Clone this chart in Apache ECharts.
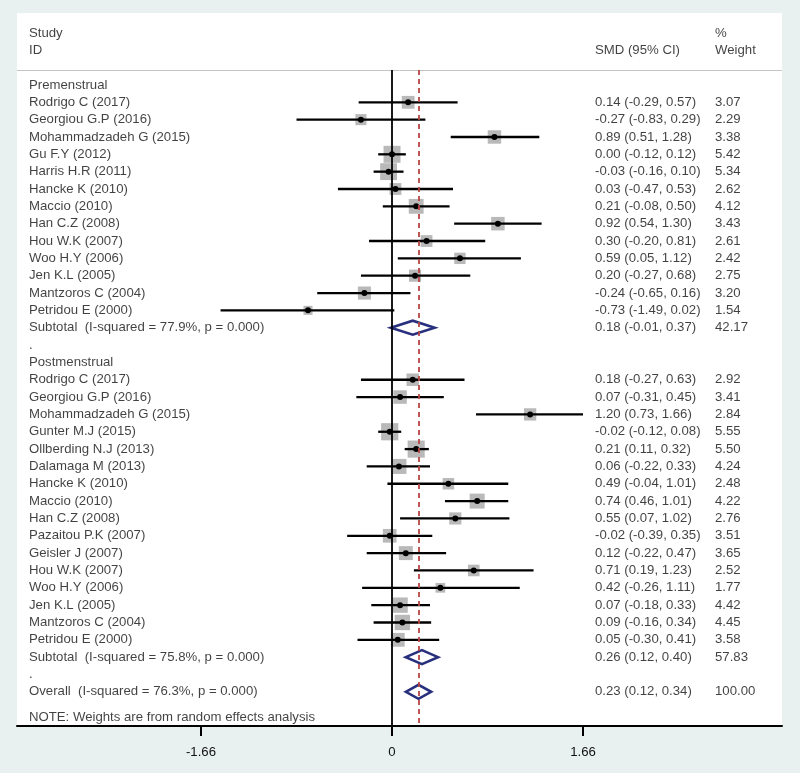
<!DOCTYPE html>
<html><head><meta charset="utf-8">
<script src="https://cdn.jsdelivr.net/npm/echarts@6/dist/echarts.min.js"></script>
<style>html,body{margin:0;padding:0;background:#e8f0f0}#c{width:800px;height:773px}</style>
</head><body><div id="c"></div>
<script>
// ---- Data ----
const preStudies = ["Rodrigo C (2017)","Georgiou G.P (2016)","Mohammadzadeh G (2015)","Gu F.Y (2012)","Harris H.R (2011)","Hancke K (2010)","Maccio (2010)","Han C.Z (2008)","Hou W.K (2007)","Woo H.Y (2006)","Jen K.L (2005)","Mantzoros C (2004)","Petridou E (2000)"];
const preSMD = [0.14,-0.27,0.89,0.00,-0.03,0.03,0.21,0.92,0.30,0.59,0.20,-0.24,-0.73];
const preLo  = [-0.29,-0.83,0.51,-0.12,-0.16,-0.47,-0.08,0.54,-0.20,0.05,-0.27,-0.65,-1.49];
const preHi  = [0.57,0.29,1.28,0.12,0.10,0.53,0.50,1.30,0.81,1.12,0.68,0.16,0.02];
const preW   = [3.07,2.29,3.38,5.42,5.34,2.62,4.12,3.43,2.61,2.42,2.75,3.20,1.54];
const preSubtotal = {label:"Subtotal  (I-squared = 77.9%, p = 0.000)", smd:0.18, lo:-0.01, hi:0.37, w:42.17};

const postStudies = ["Rodrigo C (2017)","Georgiou G.P (2016)","Mohammadzadeh G (2015)","Gunter M.J (2015)","Ollberding N.J (2013)","Dalamaga M (2013)","Hancke K (2010)","Maccio (2010)","Han C.Z (2008)","Pazaitou P.K (2007)","Geisler J (2007)","Hou W.K (2007)","Woo H.Y (2006)","Jen K.L (2005)","Mantzoros C (2004)","Petridou E (2000)"];
const postSMD = [0.18,0.07,1.20,-0.02,0.21,0.06,0.49,0.74,0.55,-0.02,0.12,0.71,0.42,0.07,0.09,0.05];
const postLo  = [-0.27,-0.31,0.73,-0.12,0.11,-0.22,-0.04,0.46,0.07,-0.39,-0.22,0.19,-0.26,-0.18,-0.16,-0.30];
const postHi  = [0.63,0.45,1.66,0.08,0.32,0.33,1.01,1.01,1.02,0.35,0.47,1.23,1.11,0.33,0.34,0.41];
const postW   = [2.92,3.41,2.84,5.55,5.50,4.24,2.48,4.22,2.76,3.51,3.65,2.52,1.77,4.42,4.45,3.58];
const postSubtotal = {label:"Subtotal  (I-squared = 75.8%, p = 0.000)", smd:0.26, lo:0.12, hi:0.40, w:57.83};

const overall = {label:"Overall  (I-squared = 76.3%, p = 0.000)", smd:0.23, lo:0.12, hi:0.34, w:100.00};
const groupNames = ["Premenstrual","Postmenstrual"];
const noteText = "NOTE: Weights are from random effects analysis";
const tickValues = [-1.66, 0, 1.66];

// ---- Layout constants ----
const xMin = -3.259, xMax = 3.389;
const yMin = -4.15, yMax = 36.97;
const sepRow = -0.86;
const colLabel = -3.155, colSMD = 1.764, colW = 2.807;

// ---- Build rows ----
const studyPts = [], diamondPts = [], texts = [];
function fmt(v){ return v.toFixed(2); }
function ciText(s,l,h){ return fmt(s)+" ("+fmt(l)+", "+fmt(h)+")"; }
let r = 0;
function addGroup(name, names, smd, lo, hi, w, sub){
  texts.push([colLabel, r, name]); r++;
  for (let i=0;i<names.length;i++){
    texts.push([colLabel, r, names[i]]);
    texts.push([colSMD, r, ciText(smd[i],lo[i],hi[i])]);
    texts.push([colW, r, fmt(w[i])]);
    studyPts.push([smd[i], r, lo[i], hi[i], w[i]]);
    r++;
  }
  texts.push([colLabel, r, sub.label]);
  texts.push([colSMD, r, ciText(sub.smd,sub.lo,sub.hi)]);
  texts.push([colW, r, fmt(sub.w)]);
  diamondPts.push([sub.smd, r, sub.lo, sub.hi]);
  r++;
  texts.push([colLabel, r, "."]); r++;
}
addGroup(groupNames[0], preStudies, preSMD, preLo, preHi, preW, preSubtotal);
addGroup(groupNames[1], postStudies, postSMD, postLo, postHi, postW, postSubtotal);
texts.push([colLabel, r, overall.label]);
texts.push([colSMD, r, ciText(overall.smd,overall.lo,overall.hi)]);
texts.push([colW, r, fmt(overall.w)]);
diamondPts.push([overall.smd, r, overall.lo, overall.hi]);
texts.push([colLabel, r+1.5, noteText]);
// headers
texts.push([colLabel, -3, "Study"]);
texts.push([colLabel, -2, "ID"]);
texts.push([colSMD, -2, "SMD (95% CI)"]);
texts.push([colW, -3, "%"]);
texts.push([colW, -2, "Weight"]);

const FONT = "'Liberation Sans', Arial, sans-serif";
const chart = echarts.init(document.getElementById('c'));
chart.setOption({
  animation: false,
  backgroundColor: '#e8f0f0',
  grid: {left: 17, right: 18, top: 13, bottom: 47, show: true, backgroundColor: '#ffffff', borderWidth: 0},
  xAxis: {
    type: 'value', min: xMin, max: xMax,
    axisLine: {show: true, onZero: false, lineStyle: {color: '#000', width: 2}},
    axisTick: {show: true, customValues: tickValues, length: 10, lineStyle: {color: '#000', width: 2}},
    axisLabel: {show: true, customValues: tickValues, margin: 20, fontSize: 13.2, color: '#111', fontFamily: FONT,
      formatter: v => (Math.abs(v) < 1e-9 ? '0' : String(v))},
    splitLine: {show: false}
  },
  yAxis: {type: 'value', min: yMin, max: yMax, inverse: true, show: false},
  series: [
    {
      type: 'scatter', z: 1, silent: true, symbolSize: 0, data: [[0, 0]],
      markLine: {
        symbol: 'none', silent: true, animation: false, label: {show: false},
        data: [
          [{coord: [xMin, sepRow], lineStyle: {color: '#c4c4c4', width: 1, type: 'solid'}}, {coord: [xMax, sepRow]}],
          [{coord: [0, sepRow], lineStyle: {color: '#000', width: 1.8, type: 'solid'}}, {coord: [0, yMax]}],
          [{coord: [overall.smd, sepRow], lineStyle: {color: '#b94444', width: 1.8, type: [5, 4]}}, {coord: [overall.smd, yMax]}]
        ]
      }
    },
    {
      type: 'custom', z: 3, silent: true, data: studyPts,
      renderItem: function (params, api) {
        const y = api.value(1);
        const c = api.coord([api.value(0), y]);
        const l = api.coord([api.value(2), y]);
        const h = api.coord([api.value(3), y]);
        const s = 7.3 * Math.sqrt(api.value(4));
        return {type: 'group', children: [
          {type: 'rect', shape: {x: c[0] - s / 2, y: c[1] - s / 2, width: s, height: s}, style: {fill: '#b9b9b9'}},
          {type: 'line', shape: {x1: l[0], y1: l[1], x2: h[0], y2: h[1]}, style: {stroke: '#000', lineWidth: 2.3}},
          {type: 'circle', shape: {cx: c[0], cy: c[1], r: 3}, style: {fill: '#000'}}
        ]};
      }
    },
    {
      type: 'custom', z: 3, silent: true, data: diamondPts,
      renderItem: function (params, api) {
        const y = api.value(1);
        const c = api.coord([api.value(0), y]);
        const l = api.coord([api.value(2), y]);
        const h = api.coord([api.value(3), y]);
        const hh = 7;
        return {type: 'polygon', shape: {points: [[l[0], l[1]], [c[0], c[1] - hh], [h[0], h[1]], [c[0], c[1] + hh]]},
          style: {fill: 'none', stroke: '#28307d', lineWidth: 2.6}};
      }
    },
    {
      type: 'scatter', z: 4, silent: true, symbolSize: 0, data: texts,
      itemStyle: {color: 'rgba(0,0,0,0)'},
      label: {show: true, position: 'right', distance: 0, formatter: p => p.value[2],
        fontSize: 13.2, color: '#111', fontFamily: FONT}
    }
  ]
});
</script></body></html>
